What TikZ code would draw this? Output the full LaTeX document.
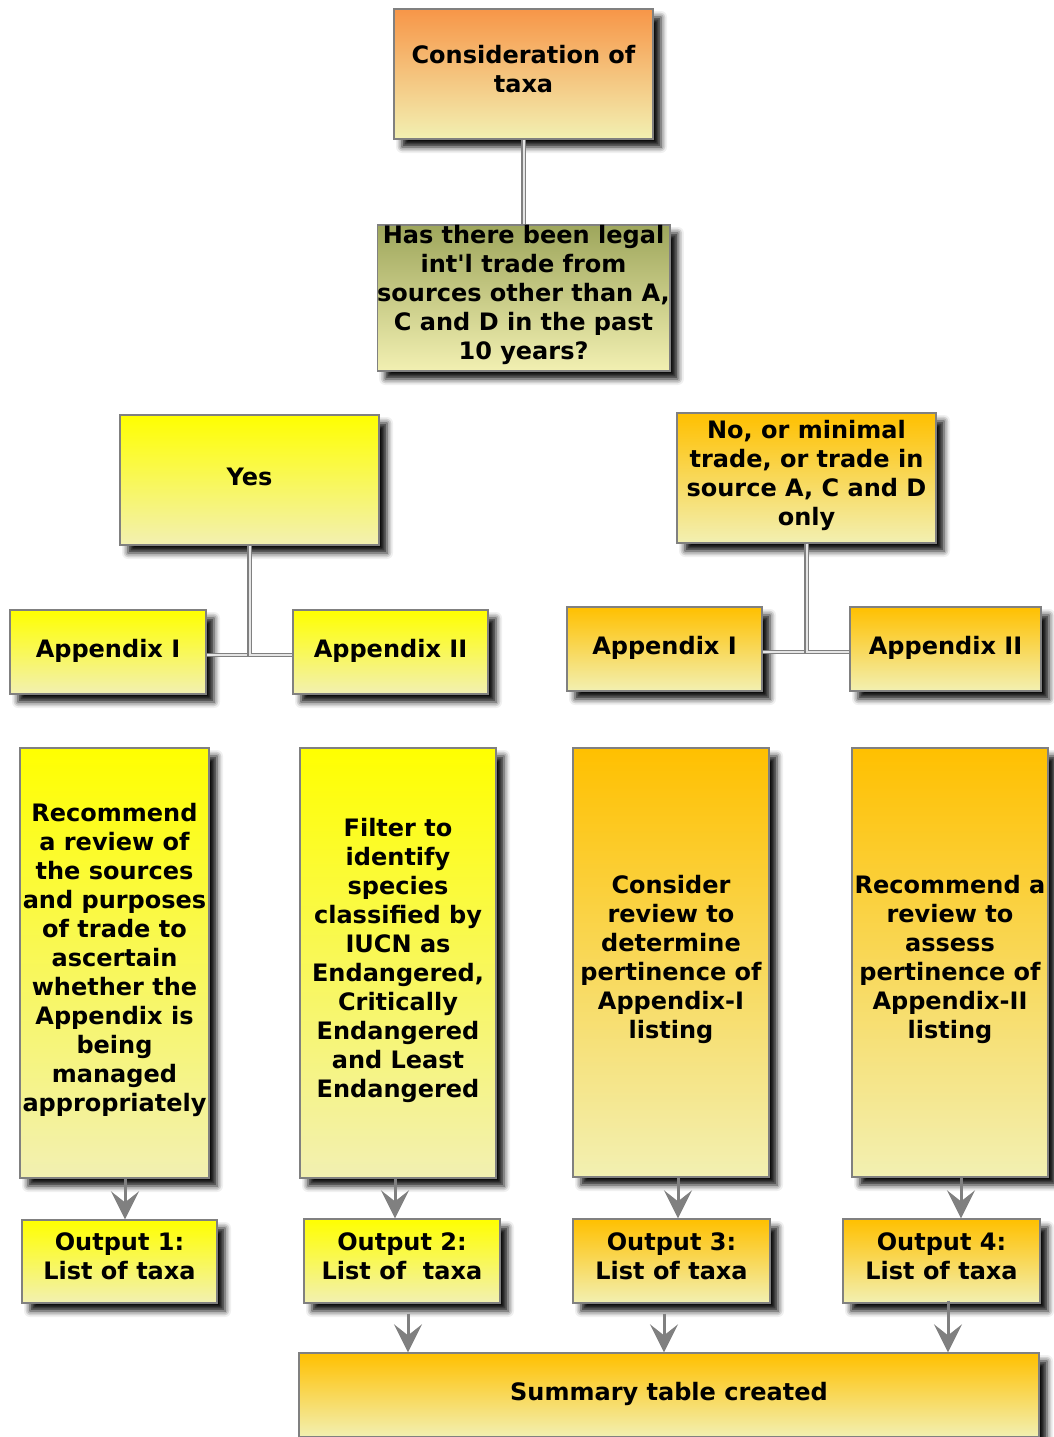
\documentclass[tikz,border=0pt]{standalone}
\usepackage{fontspec}
\setmainfont{DejaVu Sans}
\usepackage{tikz}
\usetikzlibrary{arrows.meta,shadows.blur,calc}
\definecolor{orangetop}{RGB}{247,150,72}
\definecolor{olivetop}{RGB}{158,166,92}
\definecolor{yeltop}{RGB}{255,255,0}
\definecolor{goldtop}{RGB}{255,192,0}
\definecolor{paleyel}{RGB}{242,240,178}
\definecolor{edgegray}{RGB}{128,128,128}
\tikzset{
  box/.style={draw=edgegray, line width=1.3pt, inner sep=0pt, align=center,
    font=\bfseries\fontsize{24}{29}\selectfont, bottom color=paleyel,
    execute at begin node={\rule{0pt}{22pt}},
    execute at end node={\rule[-10.5pt]{0pt}{10.5pt}},
    blur shadow={shadow xshift=8pt, shadow yshift=-8pt, shadow blur radius=6pt, shadow opacity=95}},
  orangebox/.style={box, top color=orangetop},
  olivebox/.style={box, top color=olivetop},
  yelbox/.style={box, top color=yeltop},
  goldbox/.style={box, top color=goldtop},
  link/.style={draw=edgegray, line width=1.3pt, double=gray!20, double distance=2pt},
  flow/.style={draw=edgegray, line width=3pt, -{Stealth[length=28pt,width=28pt,inset=11pt]}}
}

\begin{document}
\begin{tikzpicture}[x=1pt,y=-1pt]
\useasboundingbox (0,0) rectangle (1054,1437);

% top of the tree
\node[orangebox, minimum width=259pt, minimum height=130pt] (consider) at (523.5,74) {Consideration of\\taxa};
\node[olivebox, minimum width=291pt, minimum height=146pt] (question) at (523.5,298) {Has there been legal\\int\textquotesingle l trade from\\sources other than A,\\C and D in the past\\10 years?};
\draw[link] (consider) -- (question);

% the two answers
\node[yelbox, minimum width=259pt, minimum height=130pt] (yes) at (249.5,480) {Yes};
\node[goldbox, minimum width=259pt, minimum height=130pt] (no) at (806.5,478) {No, or minimal\\trade, or trade in\\source A, C and D\\only};

% appendices
\node[yelbox, minimum width=196pt, minimum height=84pt] (appIyes) at (108,652) {Appendix I};
\node[yelbox, minimum width=195pt, minimum height=84pt] (appIIyes) at (390.5,652) {Appendix II};
\node[goldbox, minimum width=195pt, minimum height=84pt] (appIno) at (664.5,649) {Appendix I};
\node[goldbox, minimum width=191pt, minimum height=84pt] (appIIno) at (945.5,649) {Appendix II};
\draw[link] (yes.south) |- ([yshift=-3pt]appIyes.east);
\draw[link] (yes.south) |- ([yshift=-3pt]appIIyes.west);
\draw[link] (no.south) |- ([yshift=-3pt]appIno.east);
\draw[link] (no.south) |- ([yshift=-3pt]appIIno.west);

% actions
\node[yelbox, minimum width=189pt, minimum height=430pt] (review) at (114.5,963) {Recommend\\a review of\\the sources\\and purposes\\of trade to\\ascertain\\whether the\\Appendix is\\being\\managed\\appropriately};
\node[yelbox, minimum width=196pt, minimum height=430pt] (filter) at (398,963) {Filter to\\identify\\species\\classified by\\IUCN as\\Endangered,\\Critically\\Endangered\\and Least\\Endangered};
\node[goldbox, minimum width=196pt, minimum height=429pt] (pertI) at (671,962.5) {Consider\\review to\\determine\\pertinence of\\Appendix-I\\listing};
\node[goldbox, minimum width=196pt, minimum height=429pt] (pertII) at (950,962.5) {Recommend a\\review to\\assess\\pertinence of\\Appendix-II\\listing};

% outputs
\node[yelbox, minimum width=195pt, minimum height=83pt] (out1) at (119.5,1261.5) {Output 1:\\List of taxa};
\node[yelbox, minimum width=196pt, minimum height=84pt] (out2) at (402,1261) {Output 2:\\List of\ \ taxa};
\node[goldbox, minimum width=197pt, minimum height=84pt] (out3) at (671.5,1261) {Output 3:\\List of taxa};
\node[goldbox, minimum width=197pt, minimum height=84pt] (out4) at (941.5,1261) {Output 4:\\List of taxa};
\draw[flow] ([xshift=10.5pt]review.south) -- ([xshift=10.5pt]review.south |- out1.north);
\draw[flow] ([xshift=-3pt]filter.south) -- ([xshift=-3pt]filter.south |- out2.north);
\draw[flow] ([xshift=7pt]pertI.south) -- ([xshift=7pt]pertI.south |- out3.north);
\draw[flow] ([xshift=11pt]pertII.south) -- ([xshift=11pt]pertII.south |- out4.north);

% summary
\node[goldbox, minimum width=740pt, minimum height=84pt] (summary) at (669,1395) {Summary table created};
\draw[flow] ([xshift=6pt,yshift=-10pt]out2.south) -- ([xshift=6pt]out2.south |- summary.north);
\draw[flow] ([xshift=-7.5pt,yshift=-10pt]out3.south) -- ([xshift=-7.5pt]out3.south |- summary.north);
\draw[flow] ([xshift=6.5pt,yshift=3pt]out4.south) -- ([xshift=6.5pt]out4.south |- summary.north);
\end{tikzpicture}
\end{document}
